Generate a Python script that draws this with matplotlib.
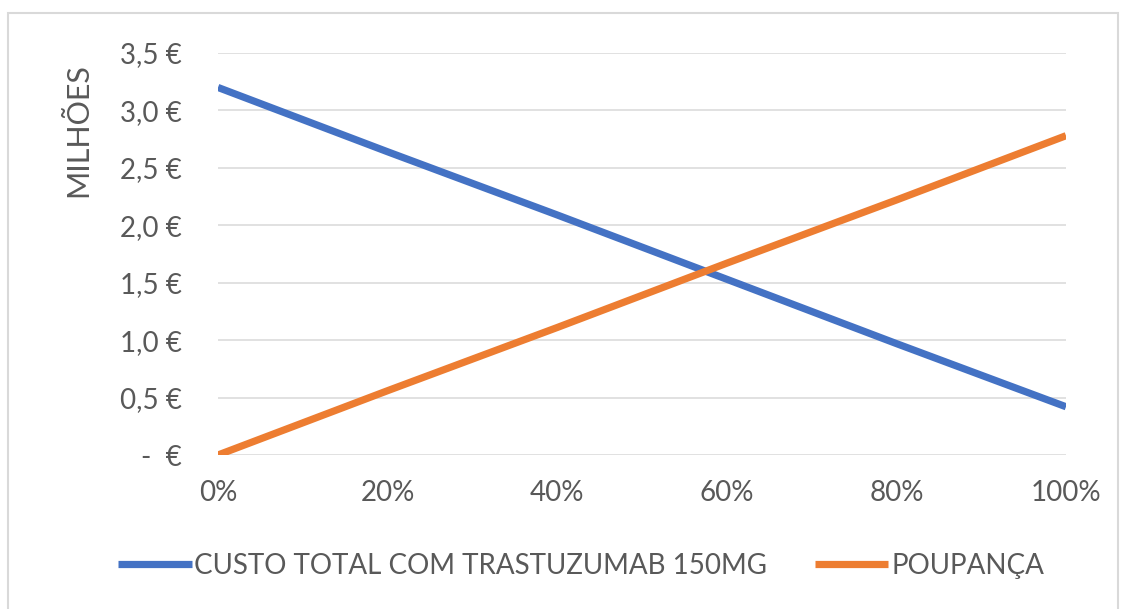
import matplotlib.pyplot as plt
from matplotlib.patches import Rectangle

# share of patients switched (x) and costs in millions of euros
share = [0.0, 0.2, 0.4, 0.6, 0.8, 1.0]
custo_total = [3.20, 2.64, 2.09, 1.53, 0.97, 0.42]
poupanca = [0.00, 0.56, 1.11, 1.67, 2.22, 2.78]

y_ticks = [0.0, 0.5, 1.0, 1.5, 2.0, 2.5, 3.0, 3.5]
y_labels = ["-  €", "0,5 €", "1,0 €", "1,5 €", "2,0 €", "2,5 €", "3,0 €", "3,5 €"]
x_ticks = [0.0, 0.2, 0.4, 0.6, 0.8, 1.0]
x_labels = ["0%", "20%", "40%", "60%", "80%", "100%"]

plt.rcParams['font.family'] = ['Lato', 'DejaVu Sans']
txt = '#595959'

fig = plt.figure(figsize=(11.31, 6.09), dpi=100)
ax = fig.add_axes([218 / 1131, 1 - 455 / 609, (1066 - 218) / 1131, (455 - 53) / 609])

# chart border
fig.patches.append(Rectangle((8 / 1131, -0.02), 1110 / 1131, 1 - 13 / 609 + 0.02,
                             transform=fig.transFigure, fill=False,
                             edgecolor='#D9D9D9', linewidth=1.5))

ax.plot(share, custo_total, color='#4472C4', linewidth=5.2,
        label='CUSTO TOTAL COM TRASTUZUMAB 150MG', solid_capstyle='butt')
ax.plot(share, poupanca, color='#ED7D31', linewidth=5.2,
        label='POUPANÇA', solid_capstyle='butt')

ax.set_xlim(0, 1)
ax.set_ylim(0, 3.5)
ax.set_yticks(y_ticks)
ax.set_yticklabels(y_labels)
ax.set_xticks(x_ticks)
ax.set_xticklabels(x_labels)
ax.grid(axis='y', color='#D9D9D9', linewidth=1.1)
ax.set_axisbelow(True)
for s in ax.spines.values():
    s.set_visible(False)
ax.tick_params(axis='y', length=0, pad=26, labelsize=20, labelcolor=txt)
ax.tick_params(axis='x', length=0, pad=18, labelsize=20, labelcolor=txt)

fig.text(78 / 1131, 1 - 130 / 609, 'MILHÕES', rotation=90, ha='center',
         va='center', fontsize=22, color=txt)

leg = fig.legend(loc='center', bbox_to_anchor=(581 / 1131, 1 - 566 / 609), ncol=2,
                 frameon=False, fontsize=20, handlelength=2.65,
                 handletextpad=0.1, columnspacing=1.7)
for t in leg.get_texts():
    t.set_color(txt)

fig.savefig('out.png', dpi=100)
